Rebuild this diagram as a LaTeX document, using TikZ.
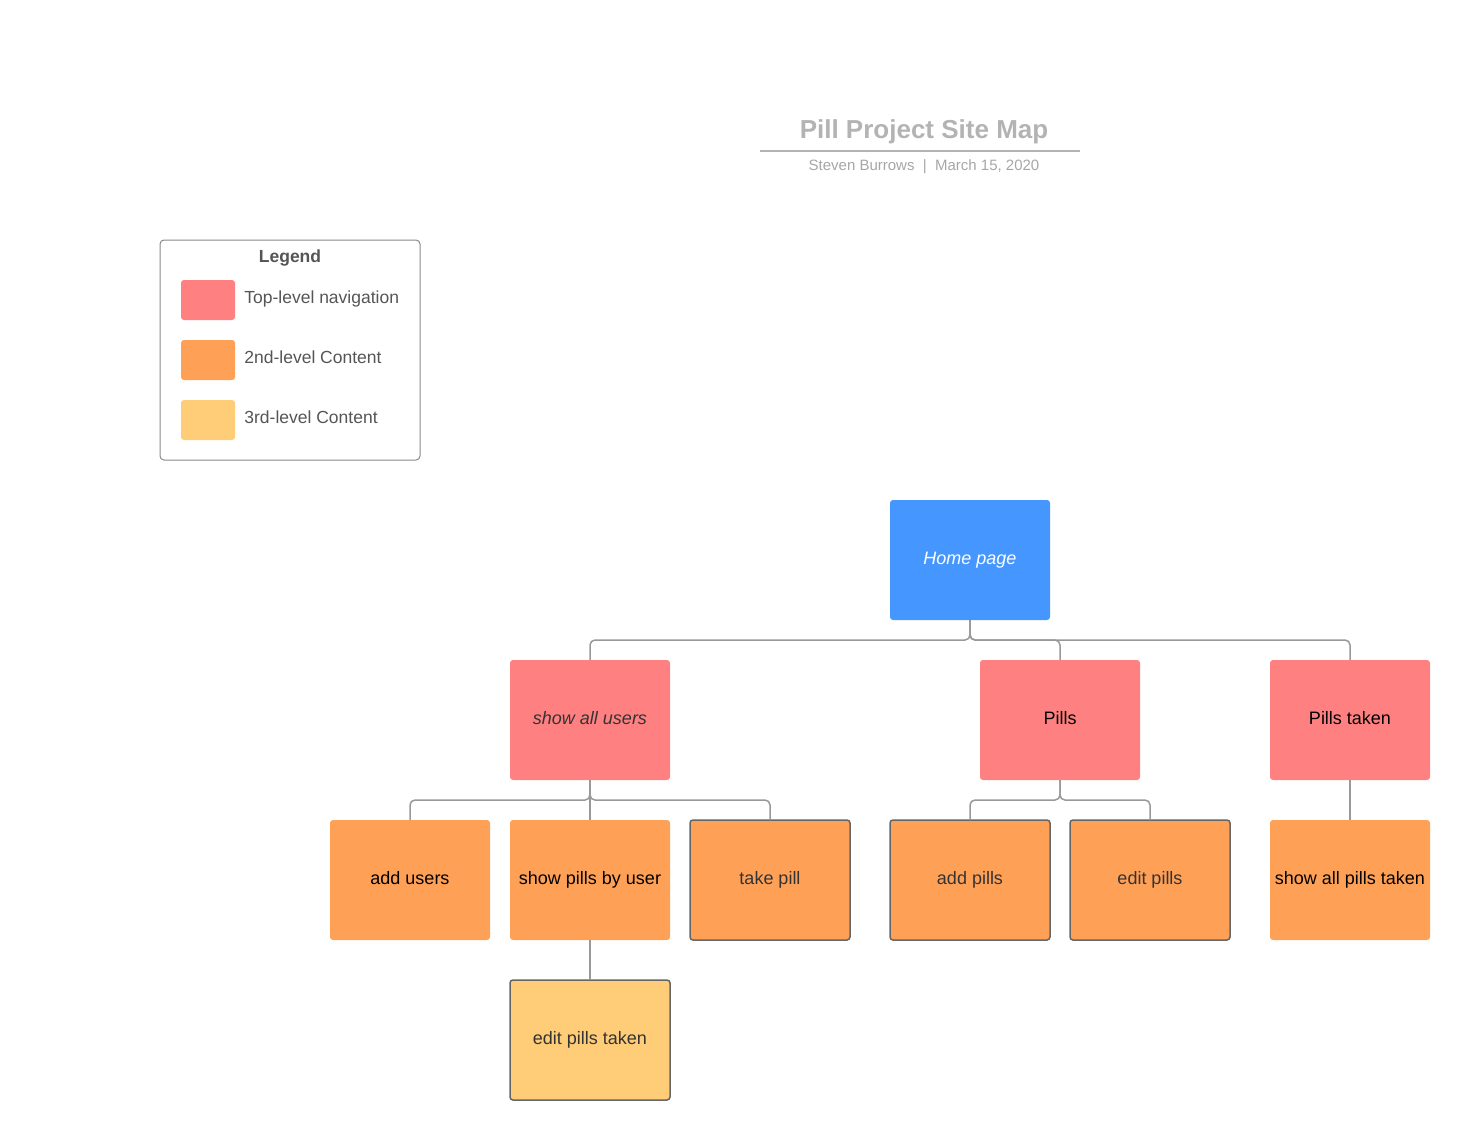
\documentclass[tikz,border=0pt]{standalone}
\usepackage{fontspec}
\setmainfont{Liberation Sans}
\usetikzlibrary{positioning}
\definecolor{navred}{HTML}{FF8080}
\definecolor{contorange}{HTML}{FFA057}
\definecolor{thirdyellow}{HTML}{FFCC77}
\definecolor{homeblue}{HTML}{4596FF}
\definecolor{linegray}{HTML}{999999}
\definecolor{edgegray}{HTML}{666666}
\definecolor{boxgray}{HTML}{888888}
\definecolor{textgray}{HTML}{333333}
\definecolor{legendgray}{HTML}{555555}
\definecolor{titlegray}{HTML}{B3B3B3}
\definecolor{subgray}{HTML}{A6A6A6}

\begin{document}
\begin{tikzpicture}[x=1pt, y=-1pt,
            page/.style={rounded corners=3pt, minimum width=160pt, minimum height=120pt, inner sep=0pt, outer sep=0pt, text height=13.1pt, text depth=3.8pt, font=\fontsize{18}{22}\selectfont},
            homepage/.style={page, fill=homeblue, text=white, font=\fontsize{18}{22}\selectfont\itshape},
            nav/.style={page, fill=navred},
            content/.style={page, fill=contorange},
            framed/.style={draw=edgegray, line width=1.5pt, text=textgray},
            third/.style={page, fill=thirdyellow, framed},
            swatch/.style={fill=#1, rounded corners=3pt, minimum width=54pt, minimum height=40pt, inner sep=0pt},
            legtext/.style={inner sep=0pt, text height=12.8pt, text depth=3.7pt, text=legendgray, font=\fontsize{17.5}{21}\selectfont},
            link/.style={draw=linegray, line width=1.5pt, rounded corners=5pt},
            node distance=20pt
        ]

        \useasboundingbox (0,0) rectangle (1470,1140);

        % Title block
        \node[text=titlegray, font=\bfseries\fontsize{26}{30}\selectfont] (title) at (924,132) {Pill Project Site Map};
        \coordinate (rulewest) at (760,151);
        \coordinate (ruleeast) at (1080,151);
        \draw[titlegray, line width=1.5pt] (rulewest) -- (ruleeast);
        \node[text=subgray, font=\fontsize{15}{18}\selectfont] (subtitle) at (924,167) {Steven Burrows~~|~~March 15, 2020};

        % Legend
        \node[draw=boxgray, line width=1pt, rounded corners=4pt, minimum width=260pt, minimum height=220pt] (legend) at (290,350) {};
        \node[text=legendgray, font=\bfseries\fontsize{17.5}{21}\selectfont] (legendtitle) at (290,258) {Legend};
        \node[swatch=navred] (swatchnav) at (208,300) {};
        \node[swatch=contorange] (swatchcont) at (208,360) {};
        \node[swatch=thirdyellow] (swatchthird) at (208,420) {};
        \node[legtext, right=9pt of swatchnav, yshift=1pt] (legnav) {Top-level navigation};
        \node[legtext, right=9pt of swatchcont, yshift=1pt] (legcont) {2nd-level Content};
        \node[legtext, right=9pt of swatchthird, yshift=1pt] (legthird) {3rd-level Content};

        % Pages
        \node[homepage] (home) at (970,560) {Home page};

        \node[nav, text=textgray, font=\fontsize{18}{22}\selectfont\itshape] (users) at (590,720) {show all users};
        \node[nav, right=310pt of users] (pills) {Pills};
        \node[nav, right=130pt of pills] (pillstaken) {Pills taken};

        \node[content, below=40pt of users] (pillsbyuser) {show pills by user};
        \node[content, left=of pillsbyuser] (addusers) {add users};
        \node[content, framed, right=of pillsbyuser] (takepill) {take pill};
        \node[content, framed, right=40pt of takepill] (addpills) {add pills};
        \node[content, framed, right=of addpills] (editpills) {edit pills};
        \node[content, below=40pt of pillstaken] (allpillstaken) {show all pills taken};

        \node[third, below=40pt of pillsbyuser] (editpillstaken) {edit pills taken};

        % Connectors
        \foreach \child in {users, pills, pillstaken}
            \draw[link] (home.south) -- ++(0,20) -| (\child.north);
        \foreach \child in {addusers, takepill}
            \draw[link] (users.south) -- ++(0,20) -| (\child.north);
        \draw[link] (users.south) -- (pillsbyuser.north);
        \foreach \child in {addpills, editpills}
            \draw[link] (pills.south) -- ++(0,20) -| (\child.north);
        \draw[link] (pillstaken.south) -- (allpillstaken.north);
        \draw[link] (pillsbyuser.south) -- (editpillstaken.north);

    \end{tikzpicture}
\end{document}
